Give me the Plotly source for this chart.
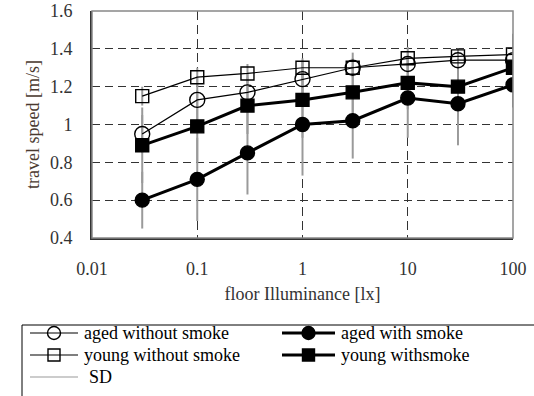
import plotly.graph_objects as go

# Floor illuminance levels [lx]
illuminance = [0.03, 0.1, 0.3, 1, 3, 10, 30, 100]

# Mean travel speed [m/s] for each group
aged_without_smoke = [0.95, 1.13, 1.17, 1.24, 1.30, 1.32, 1.34, 1.34]
aged_with_smoke = [0.60, 0.71, 0.85, 1.00, 1.02, 1.14, 1.11, 1.21]
young_without_smoke = [1.15, 1.25, 1.27, 1.30, 1.30, 1.35, 1.36, 1.37]
young_with_smoke = [0.89, 0.99, 1.10, 1.13, 1.17, 1.22, 1.20, 1.30]

# Standard deviations [m/s]
sd_aged_without = [0.10, 0.12, 0.10, 0.10, 0.08, 0.06, 0.06, 0.06]
sd_aged_with = [0.15, 0.22, 0.22, 0.27, 0.20, 0.21, 0.22, 0.12]
sd_young_without = [0.05, 0.05, 0.05, 0.05, 0.05, 0.06, 0.04, 0.10]
sd_young_with = [0.20, 0.19, 0.15, 0.20, 0.14, 0.14, 0.16, 0.18]

x_ticks = [0.01, 0.1, 1, 10, 100]
x_tick_labels = ["0.01", "0.1", "1", "10", "100"]
y_ticks = [0.4, 0.6, 0.8, 1.0, 1.2, 1.4, 1.6]
y_tick_labels = ["0.4", "0.6", "0.8", "1", "1.2", "1.4", "1.6"]

FONT = "Liberation Serif"
W, H = 534, 396
M_L, M_R, M_T, M_B = 92, 21, 11, 158
PW, PH = W - M_L - M_R, H - M_T - M_B


def px(xpix):
    """Horizontal pixel -> paper coordinate."""
    return (xpix - M_L) / PW


def py(ypix):
    """Vertical pixel -> paper coordinate."""
    return (H - M_B - ypix) / PH


# SD segments (mean +/- SD) for all groups, joined into one trace
sd_x, sd_y = [], []
for means, sds in [
    (aged_without_smoke, sd_aged_without),
    (young_without_smoke, sd_young_without),
    (young_with_smoke, sd_young_with),
    (aged_with_smoke, sd_aged_with),
]:
    for xv, m, s in zip(illuminance, means, sds):
        sd_x += [xv, xv, None]
        sd_y += [m - s, m + s, None]

fig = go.Figure()

fig.add_trace(go.Scatter(
    x=sd_x, y=sd_y, mode="lines", name="SD",
    line=dict(color="#9a9a9a", width=2), showlegend=False,
))

series = [
    ("aged without smoke", aged_without_smoke, "circle-open", 15, 1.2),
    ("aged with smoke", aged_with_smoke, "circle", 14, 3),
    ("young without smoke", young_without_smoke, "square-open", 13, 1.2),
    ("young withsmoke", young_with_smoke, "square", 13, 3),
]
for name, vals, sym, size, lw in series:
    fig.add_trace(go.Scatter(
        x=illuminance, y=vals, mode="lines+markers", name=name,
        line=dict(color="black", width=lw),
        marker=dict(symbol=sym, size=size, color="black",
                    line=dict(color="black", width=1.4)),
        showlegend=False,
    ))

# Legend drawn as shapes and annotations below the plot
shapes = [
    dict(type="rect", xref="paper", yref="paper", x0=0, x1=1, y0=0, y1=1,
         line=dict(color="#888888", width=1.5), layer="above"),
    dict(type="rect", xref="paper", yref="paper", x0=px(22), x1=px(560),
         y0=py(420), y1=py(325), line=dict(color="black", width=1)),
]
annotations = []

legend_rows = [
    # (x_left, x_right, y, label, marker kind, line width)
    (30, 78, 333, "aged without smoke", "circle-open", 1.2),
    (282, 335, 333, "aged with smoke", "circle", 3),
    (30, 78, 355, "young without smoke", "square-open", 1.2),
    (282, 335, 355, "young withsmoke", "square", 3),
]
for x0, x1, yy, label, kind, lw in legend_rows:
    shapes.append(dict(type="line", xref="paper", yref="paper",
                       x0=px(x0), x1=px(x1), y0=py(yy), y1=py(yy),
                       line=dict(color="black", width=lw)))
    cx = (x0 + x1) / 2
    r = 6.5 if kind.startswith("circle") else 6
    filled = not kind.endswith("open")
    shapes.append(dict(
        type="circle" if kind.startswith("circle") else "rect",
        xref="paper", yref="paper",
        x0=px(cx - r), x1=px(cx + r), y0=py(yy + r), y1=py(yy - r),
        fillcolor="black" if filled else "rgba(0,0,0,0)",
        line=dict(color="black", width=1.4),
    ))
    annotations.append(dict(
        xref="paper", yref="paper", x=px(x1 + 4), y=py(yy),
        xanchor="left", yanchor="middle", showarrow=False, text=label,
        font=dict(family=FONT, size=18, color="black"),
    ))

# SD key
shapes.append(dict(type="line", xref="paper", yref="paper",
                   x0=px(30), x1=px(78), y0=py(377), y1=py(377),
                   line=dict(color="#9a9a9a", width=1.2)))
annotations.append(dict(
    xref="paper", yref="paper", x=px(87), y=py(377),
    xanchor="left", yanchor="middle", showarrow=False, text="SD",
    font=dict(family=FONT, size=18, color="black"),
))

fig.update_layout(
    width=W, height=H,
    margin=dict(l=M_L, r=M_R, t=M_T, b=M_B, autoexpand=False),
    paper_bgcolor="white", plot_bgcolor="white",
    font=dict(family=FONT, size=18, color="#333333"),
    showlegend=False,
    shapes=shapes,
    annotations=annotations,
)

fig.update_xaxes(
    type="log", range=[-2, 2],
    tickvals=x_ticks, ticktext=x_tick_labels,
    showgrid=True, gridcolor="#333333", gridwidth=1, griddash="9px,5px",
    showline=True, linecolor="#333333", linewidth=2,
    ticks="outside", ticklen=13, tickcolor="rgba(0,0,0,0)",
    tickfont=dict(family=FONT, size=18, color="#333333"),
    title=dict(text="floor Illuminance [lx]", standoff=10,
               font=dict(family=FONT, size=18, color="#333333")),
    zeroline=False,
)
fig.update_yaxes(
    range=[0.4, 1.6],
    tickvals=y_ticks, ticktext=y_tick_labels,
    showgrid=True, gridcolor="#333333", gridwidth=1, griddash="8px,5px",
    showline=True, linecolor="#333333", linewidth=2,
    ticks="outside", ticklen=14, tickcolor="rgba(0,0,0,0)",
    tickfont=dict(family=FONT, size=18, color="#333333"),
    title=dict(text="travel speed [m/s]", standoff=6,
               font=dict(family=FONT, size=18, color="#4a3a30")),
    zeroline=False,
)

fig.write_html("out.html")
